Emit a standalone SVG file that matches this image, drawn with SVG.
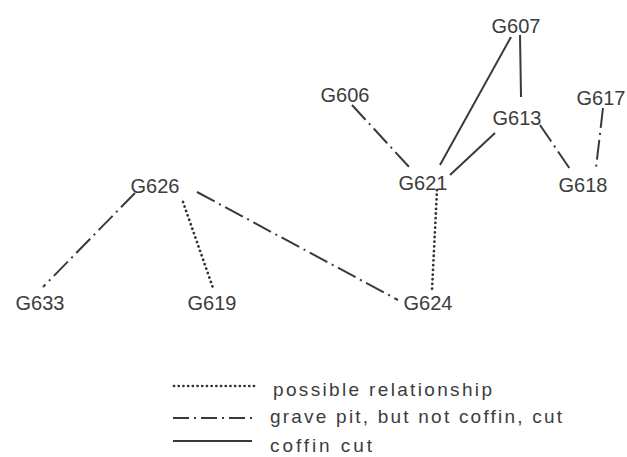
<svg xmlns="http://www.w3.org/2000/svg" width="627" height="457" viewBox="0 0 627 457">
<style>
.lbl{font-family:"Liberation Sans",Arial,sans-serif;font-size:20px;fill:#3c3c3c;text-anchor:middle}
.leg{font-family:"Liberation Sans",Arial,sans-serif;font-size:19px;fill:#3c3c3c}
.solid{stroke:#3a3a3a;stroke-width:2;fill:none}
.dashdot{stroke:#3a3a3a;stroke-width:2;fill:none;stroke-dasharray:20 5 2 5}
.dotted{stroke:#333333;stroke-width:2.7;fill:none;stroke-dasharray:0.1 4.6;stroke-linecap:round}
</style>
<rect width="627" height="457" fill="#ffffff"/>
<g id="connectors">
<line class="solid" x1="511" y1="37" x2="440" y2="165"/>
<line class="solid" x1="520" y1="35" x2="521" y2="97"/>
<line class="solid" x1="495" y1="133" x2="450" y2="175"/>
<line class="dashdot" x1="352" y1="105" x2="410" y2="168"/>
<line class="dashdot" x1="540" y1="125" x2="572" y2="172"/>
<line class="dashdot" x1="603" y1="108" x2="596" y2="168"/>
<line class="dotted" x1="437" y1="190" x2="432" y2="290"/>
<line class="dashdot" x1="135" y1="193" x2="43" y2="287"/>
<line class="dotted" x1="183" y1="202" x2="213" y2="288"/>
<line class="dashdot" x1="197" y1="192" x2="398" y2="300"/>
</g>
<g id="G607"><text class="lbl" x="516" y="33">G607</text></g>
<g id="G606"><text class="lbl" x="345" y="102">G606</text></g>
<g id="G617"><text class="lbl" x="601" y="105">G617</text></g>
<g id="G613"><text class="lbl" x="517" y="125">G613</text></g>
<g id="G621"><text class="lbl" x="423" y="190">G621</text></g>
<g id="G618"><text class="lbl" x="583" y="192">G618</text></g>
<g id="G626"><text class="lbl" x="155" y="193">G626</text></g>
<g id="G633"><text class="lbl" x="40" y="310">G633</text></g>
<g id="G619"><text class="lbl" x="212" y="310">G619</text></g>
<g id="G624"><text class="lbl" x="428" y="310">G624</text></g>
<g id="legend">
<line class="dotted" x1="174" y1="386" x2="257" y2="386"/>
<text class="leg" x="273" y="396" textLength="219" lengthAdjust="spacing">possible relationship</text>
<line x1="173" y1="418" x2="253" y2="418" stroke="#3a3a3a" stroke-width="2" stroke-dasharray="16 5 2 5"/>
<text class="leg" x="270" y="423" textLength="292" lengthAdjust="spacing">grave pit, but not coffin, cut</text>
<line class="solid" x1="173" y1="441" x2="252" y2="441"/>
<text class="leg" x="270" y="452" textLength="102" lengthAdjust="spacing">coffin cut</text>
</g>
</svg>
